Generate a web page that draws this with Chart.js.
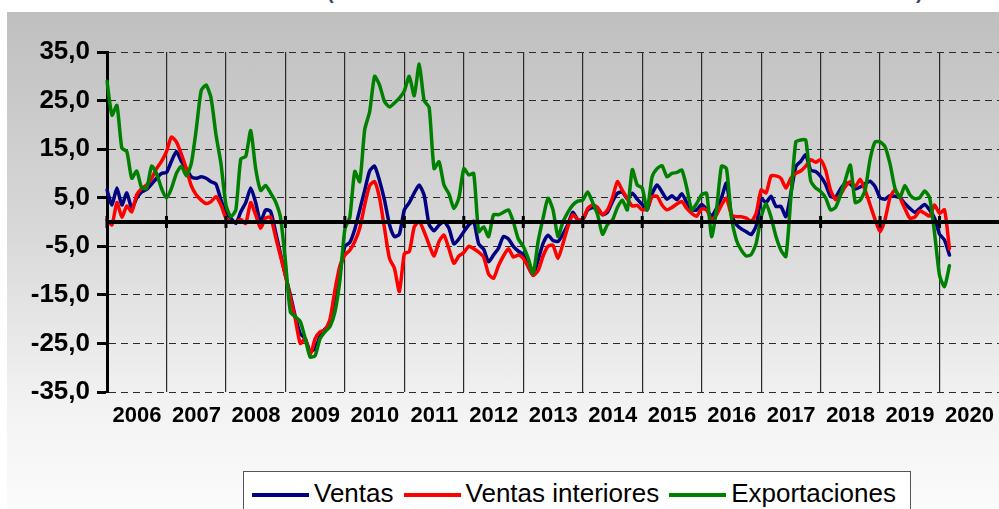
<!DOCTYPE html>
<html>
<head>
<meta charset="utf-8">
<script src="https://cdn.jsdelivr.net/npm/chart.js@4/dist/chart.umd.min.js"></script>
<style>
  body { margin: 0; background: #fff; width: 999px; height: 509px; overflow: hidden; position: relative; font-family: "Liberation Sans", Arial, sans-serif; }
  #bg { position: absolute; left: 7px; top: 12px; width: 992px; height: 497px; background: linear-gradient(#bfbfbf, #d9d9d9 45%, #f3f3f3 80%, #fbfbfb); }
  #title span { position: absolute; top: -19px; font: bold 20px "Liberation Sans", Arial, sans-serif; color: #34495e; }
  #wrap { position: absolute; left: 0; top: 0; }
  #legend { position: absolute; left: 243px; top: 471px; width: 668px; height: 50px; border: 1px solid #555; background: #fff; display: flex; align-items: flex-start; padding-left: 8px; box-sizing: border-box; overflow: hidden; }
  #legend .item { display: flex; align-items: center; margin-top: 6px; margin-right: 10px; flex-shrink: 0; white-space: nowrap; }
  #legend .swatch { width: 57px; height: 4px; margin-right: 5px; margin-top: 3px; flex-shrink: 0; }
  #legend .txt { font-size: 26px; color: #000; line-height: 30px; white-space: nowrap; }
</style>
</head>
<body>
<div id="bg"></div>
<div id="title"><span style="left:327px">(</span><span style="left:916px">)</span></div>
<div id="wrap"><canvas id="chart" width="999" height="440"></canvas></div>
<div id="legend"></div>
<script>
// tick labels (one per year)
const years = ['2006','2007','2008','2009','2010','2011','2012','2013','2014','2015','2016','2017','2018','2019','2020'];

// monthly categories, Jan 2006 .. Jan 2021
const months = [];
years.forEach(y => { for (let m = 1; m <= 12; m++) months.push(y + '-' + (m < 10 ? '0' : '') + m); });
months.push('2021-01');

// Ventas (Jan 2006 .. Mar 2020)
const ventas = [
  6.6,3.5,7,3.5,6,2.8,4.9,6.2,6.7,7.8,9,10,
  10.2,12.5,14.5,12.5,11,9.3,9,9.3,9,8.3,7.8,4.5,
  2,0.8,-0.3,2.1,4,7,4,0,2.5,2.2,-2,-6.5,
  -11,-15,-19.5,-23,-24,-26.7,-26,-23.5,-22,-21.3,-17.5,-10.5,
  -5,-4.2,-1.5,2.5,6.5,10.5,11.5,8.5,4.5,-0.5,-3,-2.5,
  2.5,4,6,7.6,5.5,-0.5,-1.8,-0.6,0.1,-1.3,-4.5,-3.5,
  -2,-0.6,0.1,-4.5,-5.6,-8.2,-6.8,-5.4,-3,-3.5,-5,-6,
  -6.7,-9.2,-10.9,-7.8,-4.4,-2.7,-3.8,-4,-2.5,-0.5,2,0.5,
  0.5,2.5,3,2.5,1.5,2,4.2,5.9,6.2,4.8,5.9,4.7,
  3.6,2.5,5.8,7.6,6.2,4.7,5.4,4.6,5.8,4,2.5,2.5,
  3.6,2.6,1.2,2.8,5,8,1.5,-0.5,-1.4,-2,-2.6,-0.8,
  4.8,4,5.3,3.2,3.2,1.1,5.9,11.4,12.5,13.8,10.7,10.4,
  9.4,7.8,5.3,5.1,6.8,8,7.8,6.8,7.2,7.9,8.4,7.3,
  5,4.7,5.4,5.3,5,3.8,2.8,2,2.8,3.6,2.5,0.8,
  -2.5,-3.7,-6.8
];

// Ventas interiores
const interiores = [
  0.4,-0.6,4,1,3.3,2.1,5.6,6.9,7.6,9,11,12.5,
  14.5,17.5,16.5,14,11,7.5,5.6,4.5,3.8,4.2,5.2,3.5,
  0.8,0,0,0.5,-0.3,4,1.5,-1.3,0.8,1,-3,-7,
  -11,-15.5,-20,-25,-24,-27.4,-24,-22.6,-22.2,-20,-14,-9,
  -6.8,-5.8,-4,-1.3,3.5,7.5,8.3,4.9,-1.3,-7.5,-9.5,-14.3,
  -6.5,-6.1,-1,0.1,-2,-4.7,-7,-4,-2.7,-5.5,-8.5,-7,
  -6.3,-5,-5.5,-6.2,-7.2,-10.7,-11.6,-9,-7,-5.5,-7.2,-6.8,
  -7.5,-9.2,-11,-10,-7,-5,-4.8,-7.5,-4.5,-1,1.5,0.5,
  0.5,2.8,3.5,3,1.5,2.5,5,8.3,6.5,4.8,3.3,3.4,
  2.5,2.8,5.2,5.3,3.5,2.5,3,3.7,4.2,2.8,1.8,1.2,
  2.7,2.5,0.5,1.5,3.5,4.9,1.5,1.1,1.1,0.8,0.1,1.8,
  6.6,6,9.5,9.5,9,7,9,10,10.5,11.5,12.8,12.3,
  12.8,10.7,6.6,4.6,5.6,7.3,8.3,7.3,8.8,6.5,3.5,0.5,
  -2,0.5,5,6.6,5,2.8,0.8,1,2.3,1.8,1.2,3.5,
  1.8,2.5,-5.5
];

// Exportaciones
const exportaciones = [
  29,22,24,15.2,14.5,9,10.5,7,6.9,11.5,10,6.9,
  5,6.9,10,11.5,9.5,12,19,27,28.2,25.5,17.9,12,
  3.5,1.1,2.5,13,13.5,18.8,11,6.5,7.5,6,4.2,1,
  -8,-18.5,-19.5,-20.5,-24,-27.8,-27.5,-24,-22.6,-21.5,-18.5,-12,
  -1.5,1,10.4,8.3,19,22.7,30,28.2,24.8,23.7,24.5,25.5,
  27,30,26,32.5,25,23.6,11,12.4,7.6,5.8,2.8,4.9,
  11,9.7,10,-2,-1,-3,1.5,1.5,2,2.5,0,-3.5,
  -5,-7.5,-10.6,-4,0.8,4.9,2.5,-3,0,2,3.5,4.3,
  4.5,6.2,4,1.5,-2.5,-0.5,0.4,3,4.5,2.5,10.8,7.6,
  7,2.5,9.3,11,11.6,9.3,10,10.2,10.7,7,2.5,3.8,
  5.6,5.9,-3,2.5,11.5,11,1,-3.7,-5.8,-7,-6.7,-4.4,
  1,3.8,1,-3,-5.8,-7.1,5,16.5,16.9,16.9,8.5,7,
  6.3,5,2.5,3,5.5,8.7,11.7,4,4.5,6.6,13,16.5,
  16.5,15.5,12,7,5,7.5,5.6,4.8,5,6.4,5,-2.3,
  -11,-13.3,-9
];

const FONT = '"Liberation Sans", Arial, sans-serif';

// thick zero line with small marks at each year
const zeroLine = {
  id: 'zeroLine',
  afterDatasetsDraw(chart) {
    const {ctx, chartArea: a, scales: {x, y}} = chart;
    const y0 = y.getPixelForValue(0);
    ctx.save();
    ctx.strokeStyle = '#000';
    ctx.lineWidth = 4;
    ctx.beginPath();
    ctx.moveTo(a.left, y0);
    ctx.lineTo(a.right, y0);
    ctx.stroke();
    ctx.lineWidth = 3;
    x.ticks.forEach((t, i) => {
      const px = x.getPixelForTick(i);
      ctx.beginPath();
      ctx.moveTo(px, y0 - 6);
      ctx.lineTo(px, y0 + 6);
      ctx.stroke();
    });
    ctx.restore();
  }
};

const line = (label, data, color, order) => ({
  label, data, order,
  borderColor: color, backgroundColor: color,
  borderWidth: 3.5, pointRadius: 0, tension: 0.2,
  borderJoinStyle: 'round', borderCapStyle: 'round', fill: false
});

const chart = new Chart(document.getElementById('chart'), {
  type: 'line',
  data: {
    labels: months,
    datasets: [
      line('Ventas', ventas, '#000080', 2),
      line('Ventas interiores', interiores, '#ff0000', 1),
      line('Exportaciones', exportaciones, '#008000', 0)
    ]
  },
  options: {
    responsive: false,
    animation: false,
    layout: { padding: { top: 52, left: 7, right: 0, bottom: 0 } },
    plugins: { legend: { display: false }, tooltip: { enabled: false } },
    scales: {
      x: {
        afterBuildTicks: s => { s.ticks = s.ticks.filter(t => t.value % 12 === 0); },
        afterFit: s => { s.height = 48; },
        ticks: {
          autoSkip: false, maxRotation: 0, minRotation: 0,
          labelOffset: 30, padding: 11, color: '#000',
          font: { family: FONT, size: 22, weight: 'bold' },
          callback: v => years[v / 12]
        },
        grid: { color: '#2a2a2a', lineWidth: 1.2, drawTicks: false },
        border: { display: false }
      },
      y: {
        min: -35, max: 35,
        afterFit: s => { s.width = 100; },
        ticks: {
          stepSize: 10, padding: 7, color: '#000',
          font: { family: FONT, size: 26, weight: 'bold' },
          callback: v => v.toFixed(1).replace('.', ',')
        },
        grid: { color: '#2a2a2a', lineWidth: 1, tickColor: '#000', tickWidth: 3, tickLength: 10 },
        border: { display: true, color: '#000', width: 3, dash: [7, 5] }
      }
    }
  },
  plugins: [zeroLine]
});

// legend built from the datasets
const legend = document.getElementById('legend');
chart.data.datasets.forEach(ds => {
  const item = document.createElement('div');
  item.className = 'item';
  item.innerHTML = '<span class="swatch" style="background:' + ds.borderColor + '"></span><span class="txt">' + ds.label + '</span>';
  legend.appendChild(item);
});
</script>
</body>
</html>
